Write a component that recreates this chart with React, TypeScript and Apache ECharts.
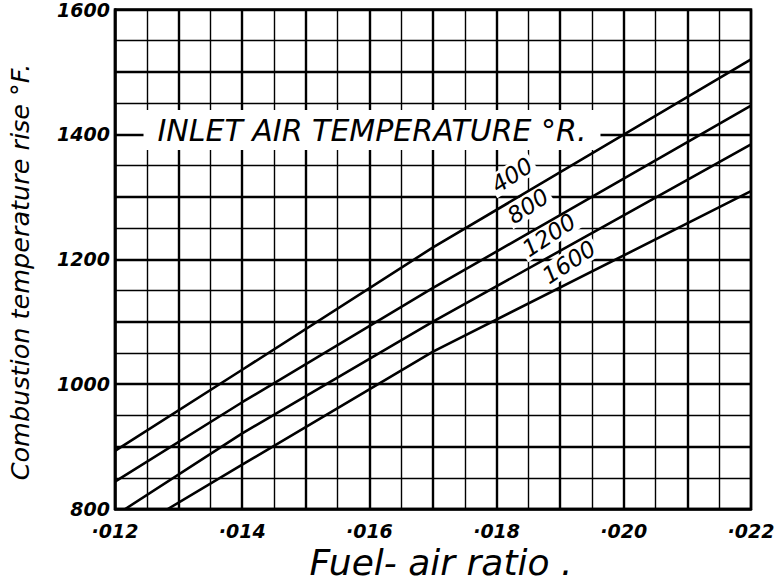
import React, { useEffect, useRef } from "react";
import * as echarts from "echarts";

// Fuel-air ratio readings and combustion temperature rise (°F) per inlet air temperature (°R)
const inletTemps = ["400", "800", "1200", "1600"];
const fuelAir400 = [0.012, 0.014, 0.017, 0.022];
const rise400 = [893, 1023, 1219, 1520];
const fuelAir800 = [0.012, 0.014, 0.017, 0.022];
const rise800 = [844, 971, 1154, 1446];
const fuelAir1200 = [0.01216, 0.014, 0.017, 0.022];
const rise1200 = [800, 921, 1100, 1384];
const fuelAir1600 = [0.01283, 0.014, 0.017, 0.022];
const rise1600 = [800, 871, 1052, 1309];

const xMin = 0.012;
const xMax = 0.022;
const yMin = 800;
const yMax = 1600;

const legendTitle = "INLET AIR TEMPERATURE °R.";
const xTitle = "Fuel- air ratio .";
const yTitle = "Combustion temperature rise °F.";

const FONT = "DejaVu Sans";

function pairs(xs: number[], ys: number[]) {
  return xs.map((x, i) => [x, ys[i]]);
}

export default function App() {
  const ref = useRef<HTMLDivElement>(null);
  useEffect(() => {
    if (!ref.current) return;
    const chart = echarts.init(ref.current, null, { renderer: "svg" });
    const seriesData = [
      pairs(fuelAir400, rise400),
      pairs(fuelAir800, rise800),
      pairs(fuelAir1200, rise1200),
      pairs(fuelAir1600, rise1600),
    ];
    const labelPos = [
      [512, 175],
      [528, 206],
      [549, 235],
      [569, 262],
    ];
    chart.setOption({
      animation: false,
      backgroundColor: "#ffffff",
      grid: {
        left: 115,
        right: 32,
        top: 7,
        bottom: 73,
        show: true,
        borderColor: "#000",
        borderWidth: 2.5,
        z: 0,
      },
      xAxis: {
        type: "value",
        min: xMin,
        max: xMax,
        interval: 0.001,
        axisLine: { show: true, lineStyle: { color: "#000", width: 2.5 } },
        axisTick: { show: false },
        splitLine: { show: true, lineStyle: { color: "#000", width: 2.4 } },
        minorTick: { show: false, splitNumber: 2 },
        minorSplitLine: { show: true, lineStyle: { color: "#000", width: 1.4 } },
        axisLabel: {
          margin: 12,
          fontFamily: FONT,
          fontStyle: "italic",
          fontWeight: "bold",
          fontSize: 19,
          color: "#000",
          formatter: (v: number) =>
            Math.round(v * 1000) % 2 === 0 ? "·" + v.toFixed(3).slice(2) : "",
        },
      },
      yAxis: {
        type: "value",
        min: yMin,
        max: yMax,
        interval: 100,
        axisLine: { show: true, lineStyle: { color: "#000", width: 2.5 } },
        axisTick: { show: false },
        splitLine: { show: true, lineStyle: { color: "#000", width: 2.4 } },
        minorTick: { show: false, splitNumber: 2 },
        minorSplitLine: { show: true, lineStyle: { color: "#000", width: 1.4 } },
        axisLabel: {
          margin: 5,
          fontFamily: FONT,
          fontStyle: "italic",
          fontWeight: "bold",
          fontSize: 19,
          color: "#000",
          formatter: (v: number) => (v % 200 === 0 ? String(v) : ""),
        },
      },
      series: seriesData.map((d, i) => ({
        name: inletTemps[i],
        type: "line",
        data: d,
        showSymbol: false,
        symbol: "none",
        clip: true,
        z: 3,
        lineStyle: { color: "#000", width: 2.6 },
      })),
      graphic: [
        {
          type: "text",
          x: 372,
          y: 130,
          z: 1,
          style: {
            text: legendTitle,
            fontFamily: FONT,
            fontStyle: "italic",
            fontSize: 30,
            fill: "#000",
            align: "center",
            verticalAlign: "middle",
            backgroundColor: "#fff",
            padding: [6, 14, 4, 14],
          },
        },
        ...inletTemps.map((t, i) => ({
          type: "text",
          x: labelPos[i][0],
          y: labelPos[i][1],
          rotation: 0.58,
          z: 1,
          style: {
            text: t,
            fontFamily: FONT,
            fontStyle: "italic",
            fontSize: 23,
            fill: "#000",
            align: "center",
            verticalAlign: "middle",
            backgroundColor: "#fff",
            padding: [0, 3, 0, 3],
          },
        })),
        {
          type: "text",
          x: 20,
          y: 272,
          rotation: Math.PI / 2,
          z: 5,
          style: {
            text: yTitle,
            fontFamily: FONT,
            fontStyle: "italic",
            fontSize: 25.5,
            fill: "#000",
            align: "center",
            verticalAlign: "middle",
          },
        },
        {
          type: "text",
          x: 441,
          y: 562,
          z: 5,
          style: {
            text: xTitle,
            fontFamily: FONT,
            fontStyle: "italic",
            fontSize: 36,
            fill: "#000",
            align: "center",
            verticalAlign: "middle",
          },
        },
      ],
    });
    return () => chart.dispose();
  }, []);
  return (
    <div
      ref={ref}
      style={{ position: "fixed", left: 0, top: 0, width: 783, height: 582, background: "#fff" }}
    />
  );
}
